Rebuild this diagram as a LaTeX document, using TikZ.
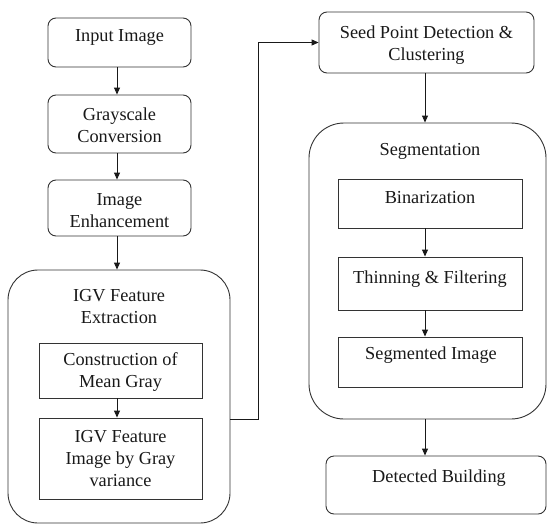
\documentclass[tikz,border=0pt]{standalone}
\usepackage{fontspec}
\setmainfont{Liberation Serif}
\newfontfamily\tnr{Liberation Serif}
\usetikzlibrary{arrows.meta}
\begin{document}
\begin{tikzpicture}[x=1pt,y=-1pt,
  every node/.style={font=\tnr\fontsize{18.3}{22}\selectfont, text=black!90},
  rbox/.style={draw=black!80, line width=0.9pt, rounded corners=8pt, minimum width=#1, inner sep=0pt},
  sbox/.style={draw=black!80, line width=0.9pt, minimum width=#1, inner sep=0pt},
  bigbox/.style={draw=black!80, line width=0.9pt, rounded corners=#1, inner sep=0pt},
  lbl/.style={inner sep=0pt, align=center},
  conn/.style={draw=black!90, line width=0.9pt, -{Triangle[length=7pt,width=6pt]}},
  plain/.style={draw=black!90, line width=0.9pt}]
\useasboundingbox (0,0) rectangle (548,525);
\fill[white] (0,0) rectangle (548,525);

% left column
\node[rbox=143pt, minimum height=49pt] (in) at (119.5,42.5) {};
\node[lbl, anchor=base] (inT) at (119.5,41.5) {Input Image};
\node[rbox=143pt, minimum height=58pt] (gray) at (119.5,124) {};
\node[lbl] (grayT) at (119.5,125) {Grayscale\\Conversion};
\node[rbox=143pt, minimum height=56pt] (enh) at (119.5,208) {};
\node[lbl] (enhT) at (119.5,210.5) {Image\\Enhancement};

\node[bigbox=30pt, minimum width=222pt, minimum height=253pt] (igv) at (119,396.5) {};
\node[lbl] (igvT) at (119,306.5) {IGV Feature\\Extraction};
\node[sbox=163pt, minimum height=55pt] (cons) at (120.5,370.5) {};
\node[lbl] (consT) at (120.5,372) {Construction of\\Mean Gray};
\node[sbox=163pt, minimum height=81pt] (igvimg) at (120.5,458.5) {};
\node[lbl] (igvimgT) at (120.5,459) {IGV Feature\\Image by Gray\\variance};

% right column
\node[rbox=215pt, minimum height=61pt] (seed) at (426.5,42.5) {};
\node[lbl] (seedT) at (426.5,45.5) {Seed Point Detection \&\\Clustering};
\node[bigbox=35pt, minimum width=237pt, minimum height=296pt] (seg) at (427.5,271) {};
\node[lbl, anchor=base] (segT) at (430,155) {Segmentation};
\node[sbox=184pt, minimum height=49pt] (bin) at (430,203.5) {};
\node[lbl, anchor=base] (binT) at (430,203) {Binarization};
\node[sbox=184pt, minimum height=53pt] (thin) at (430,283.5) {};
\node[lbl, anchor=base] (thinT) at (430,283) {Thinning \& Filtering};
\node[sbox=184pt, minimum height=50pt] (segimg) at (430,362) {};
\node[lbl, anchor=base] (segimgT) at (431,359) {Segmented Image};
\node[rbox=220pt, minimum height=58pt] (det) at (436,485) {};
\node[lbl, anchor=base] (detT) at (439,482) {Detected Building};

% helper coordinates
\coordinate (lx) at (117,0);
\coordinate (rx) at (425,0);
\coordinate (jx) at (258,0);
\coordinate (jy) at (0,419);

% connectors
\draw[conn] (in.south -| lx) -- (gray.north -| lx);
\draw[conn] (gray.south -| lx) -- (enh.north -| lx);
\draw[conn] (enh.south -| lx) -- (igv.north -| lx);
\draw[conn] (cons.south -| lx) -- (igvimg.north -| lx);
\draw[conn] (igv.east |- jy) -- (jx |- jy) -- (jx |- seed.west) -- (seed.west);
\draw[conn] (seed.south -| rx) -- (seg.north -| rx);
\draw[conn] (bin.south -| rx) -- (thin.north -| rx);
\draw[conn] (thin.south -| rx) -- (segimg.north -| rx);
\draw[conn] (seg.south -| rx) -- (det.north -| rx);
\end{tikzpicture}
\end{document}
